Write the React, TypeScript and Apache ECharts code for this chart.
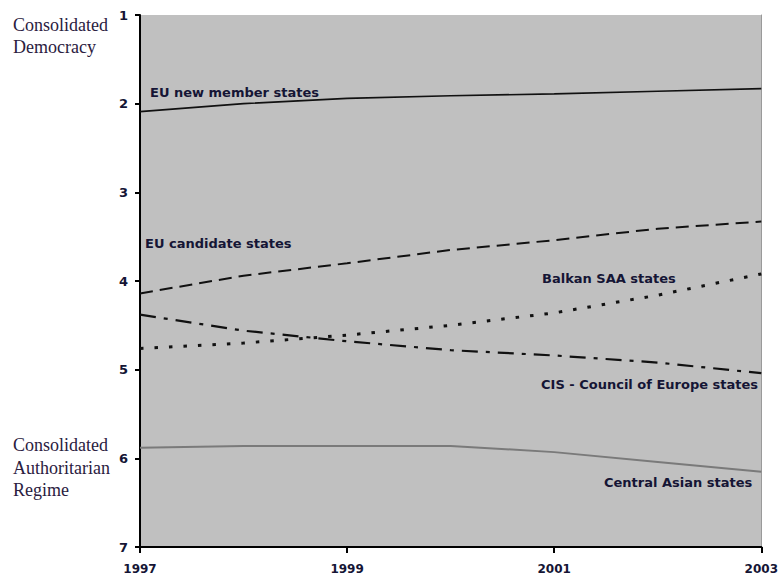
import React, { useEffect, useRef } from "react";
import * as echarts from "echarts";

const years = ["1997", "1998", "1999", "2000", "2001", "2002", "2003"];
const euNewMember = [2.09, 2.0, 1.94, 1.91, 1.89, 1.86, 1.83];
const euCandidate = [4.14, 3.94, 3.8, 3.65, 3.54, 3.41, 3.33];
const balkanSAA = [4.76, 4.7, 4.61, 4.5, 4.36, 4.16, 3.92];
const cisCoE = [4.38, 4.56, 4.68, 4.78, 4.84, 4.92, 5.04];
const centralAsian = [5.88, 5.86, 5.86, 5.86, 5.93, 6.04, 6.15];
const yTicks = [1, 7];

const LABEL_FONT = "'DejaVu Sans', 'Liberation Sans', sans-serif";
const SERIF = "'Liberation Serif', 'DejaVu Serif', serif";
const TXT = "#151535";

export default function App() {
  const ref = useRef<HTMLDivElement>(null);
  useEffect(() => {
    if (!ref.current) return;
    const chart = echarts.init(ref.current, null, { renderer: "svg" });
    const lineSeries = (name: string, data: number[], color: string, width: number, type: any) => ({
      name,
      type: "line",
      data,
      symbol: "none",
      smooth: false,
      lineStyle: { color, width, type, cap: "butt" },
      z: 3,
    });
    chart.setOption({
      animation: false,
      backgroundColor: "#ffffff",
      grid: {
        left: 140,
        right: 15,
        top: 15,
        bottom: 29,
        show: true,
        backgroundColor: "#c0c0c0",
        borderWidth: 0,
      },
      xAxis: {
        type: "category",
        data: years,
        boundaryGap: false,
        axisLine: { show: true, lineStyle: { color: "#000", width: 2 } },
        axisTick: { show: true, interval: 1, length: 6, lineStyle: { color: "#000", width: 2 } },
        axisLabel: {
          interval: 1,
          margin: 16,
          color: TXT,
          fontFamily: LABEL_FONT,
          fontWeight: "bold",
          fontSize: 12,
        },
        splitLine: { show: false },
      },
      yAxis: [
        {
          type: "value",
          inverse: true,
          min: yTicks[0],
          max: yTicks[1],
          interval: 1,
          axisLine: { show: true, lineStyle: { color: "#000", width: 2 } },
          axisTick: { show: true, length: 5, lineStyle: { color: "#000", width: 2 } },
          axisLabel: {
            margin: 12,
            color: TXT,
            fontFamily: LABEL_FONT,
            fontWeight: "bold",
            fontSize: 13,
          },
          splitLine: { show: false },
        },
        {
          type: "value",
          inverse: true,
          position: "right",
          min: yTicks[0],
          max: yTicks[1],
          interval: 1,
          axisLine: { show: true, lineStyle: { color: "#9a9a9a", width: 1 } },
          axisTick: { show: false },
          axisLabel: { show: false },
          splitLine: { show: false },
        },
      ],
      series: [
        lineSeries("EU new member states", euNewMember, "#111111", 1.6, "solid"),
        lineSeries("EU candidate states", euCandidate, "#111111", 2, [13, 7]),
        lineSeries("Balkan SAA states", balkanSAA, "#111111", 3, [3.5, 11]),
        lineSeries("CIS - Council of Europe states", cisCoE, "#111111", 2.2, [16, 8, 4, 8]),
        lineSeries("Central Asian states", centralAsian, "#7a7a7a", 2, "solid"),
      ],
      graphic: [
        {
          type: "text",
          left: 13,
          top: 14,
          style: { text: "Consolidated\nDemocracy", font: `18px ${SERIF}`, fill: "#2a2040", lineHeight: 22 },
        },
        {
          type: "text",
          left: 13,
          top: 434,
          style: { text: "Consolidated\nAuthoritarian\nRegime", font: `18px ${SERIF}`, fill: "#2a2040", lineHeight: 22.5 },
        },
        {
          type: "text",
          x: 150,
          y: 92,
          style: { text: "EU new member states", font: `bold 13px ${LABEL_FONT}`, fill: TXT, verticalAlign: "middle" },
          z: 10,
        },
        {
          type: "text",
          x: 145,
          y: 243,
          style: { text: "EU candidate states", font: `bold 13px ${LABEL_FONT}`, fill: TXT, verticalAlign: "middle" },
          z: 10,
        },
        {
          type: "text",
          x: 542,
          y: 278,
          style: { text: "Balkan SAA states", font: `bold 13px ${LABEL_FONT}`, fill: TXT, verticalAlign: "middle" },
          z: 10,
        },
        {
          type: "text",
          x: 541,
          y: 384,
          style: { text: "CIS - Council of Europe states", font: `bold 13px ${LABEL_FONT}`, fill: TXT, verticalAlign: "middle" },
          z: 10,
        },
        {
          type: "text",
          x: 604,
          y: 482,
          style: { text: "Central Asian states", font: `bold 13px ${LABEL_FONT}`, fill: TXT, verticalAlign: "middle" },
          z: 10,
        },
      ],
    });
    return () => chart.dispose();
  }, []);
  return <div ref={ref} style={{ width: 781, height: 576, position: "absolute", left: 0, top: 0 }} />;
}
